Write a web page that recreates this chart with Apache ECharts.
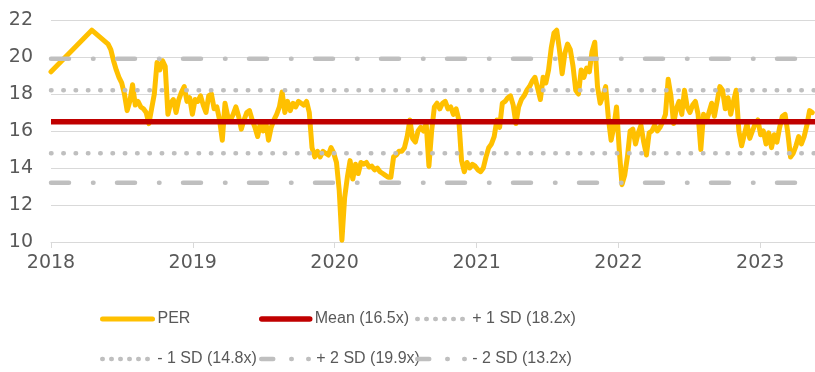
<!DOCTYPE html>
<html>
<head>
<meta charset="utf-8">
<script src="https://cdn.jsdelivr.net/npm/echarts@6/dist/echarts.min.js"></script>
<style>
  html, body { margin: 0; padding: 0; background: #fff; }
  #chart { width: 815px; height: 372px; }
</style>
</head>
<body>
<div id="chart"></div>
<script>
// Price/earnings ratio, sparse early readings
const earlyDates = ['2018-01-01', '2018-04-16'];
const earlyValues = [19.2, 21.45];

// Weekly readings from the first week below
const weeklyStart = [2018, 4, 28]; // 28 May 2018 (month is zero-based)
const weeklyValues = [
  20.7, 20.4, 19.8, 19.3, 18.9, 18.6, 18.0, 17.1, 17.6, 18.5,
  17.4, 17.6, 17.3, 17.2, 17.0, 16.4, 17.2, 18.0, 19.7, 19.3,
  19.8, 19.5, 16.9, 17.5, 17.7, 17.0, 17.7, 18.1, 18.4, 17.6,
  17.8, 16.9, 17.7, 17.6, 17.9, 17.4, 17.0, 17.9, 18.0, 17.2,
  17.3, 16.6, 15.5, 17.5, 16.8, 16.6, 16.9, 17.3, 16.8, 16.1,
  16.6, 17.0, 17.1, 16.6, 16.2, 15.7, 16.4, 16.0, 16.5, 15.5,
  16.2, 16.6, 16.9, 17.3, 18.1, 17.0, 17.6, 17.1, 17.5, 17.3,
  17.6, 17.5, 17.4, 17.6, 17.0, 15.1, 14.6, 14.9, 14.6, 14.9,
  14.8, 14.7, 15.1, 14.8, 14.3, 12.8, 10.1, 12.4, 13.5, 14.4,
  13.4, 14.2, 13.7, 14.3, 14.2, 14.3, 14.05, 14.1, 13.9, 14.0,
  13.8, 13.7, 13.6, 13.5, 13.5, 14.6, 14.7, 14.9, 14.9, 15.1,
  15.7, 16.6, 15.6, 15.4, 16.0, 16.2, 16.0, 16.4, 14.1, 16.0,
  17.3, 17.5, 17.2, 17.5, 17.6, 17.2, 17.3, 16.9, 17.2, 16.6,
  14.4, 13.8, 14.3, 14.0, 14.2, 14.1, 13.9, 13.8, 14.0, 14.6,
  15.1, 15.3, 15.7, 16.6, 16.2, 17.5, 17.6, 17.8, 17.9, 17.4,
  16.4, 17.3, 17.7, 17.9, 18.2, 18.4, 18.7, 18.9, 18.3, 17.7,
  18.9, 18.6, 19.3, 20.5, 21.3, 21.45, 20.4, 19.1, 20.2, 20.7,
  20.4, 19.5, 18.2, 18.0, 19.3, 18.9, 19.4, 19.2, 20.3, 20.8,
  18.4, 17.5, 17.9, 18.4, 16.7, 15.5, 16.2, 17.3, 15.0, 13.1,
  13.6, 14.6, 16.0, 16.1, 15.3, 15.9, 16.3, 15.4, 14.7, 15.9,
  16.0, 16.3, 16.0, 16.2, 16.5, 16.9, 18.8, 17.9, 16.4, 17.2,
  17.6, 16.9, 18.2, 17.3, 17.0, 17.4, 17.6, 16.9, 15.0, 16.9,
  16.5, 17.0, 17.5, 16.8, 17.6, 18.4, 18.2, 17.2, 17.8, 16.9,
  17.6, 18.2, 16.0, 15.2, 15.8, 16.4, 15.6, 16.0, 16.4, 16.6,
  15.8, 16.0, 15.3, 15.9, 15.1, 15.8, 15.4, 16.2, 16.8, 16.9,
  15.9, 14.6, 14.8, 15.2, 15.7, 15.3, 15.7, 16.3, 17.1, 17.0
];

// Statistical reference levels
const meanLevel = 16.5;
const plus1SD = 18.2;
const minus1SD = 14.8;
const plus2SD = 19.9;
const minus2SD = 13.2;

// Axis ranges and tick labels
const xStart = '2018-01-01';
const xEnd = '2023-05-22';
const yearLabels = [2018, 2019, 2020, 2021, 2022, 2023];
const yMin = 10, yMax = 22, yStep = 2;

// ---- build series data ----
const toTime = s => { const p = s.split('-').map(Number); return new Date(p[0], p[1] - 1, p[2]).getTime(); };
const perData = earlyDates.map((d, i) => [toTime(d), earlyValues[i]]);
weeklyValues.forEach((v, i) => {
  const t = new Date(weeklyStart[0], weeklyStart[1], weeklyStart[2] + 7 * i).getTime();
  perData.push([t, v]);
});
const tMin = toTime(xStart), tMax = toTime(xEnd);
const yearTicks = yearLabels.map(y => new Date(y, 0, 1).getTime());
const flat = v => [[tMin, v], [tMax, v]];

const GREY = '#BFBFBF';
const TEXT = '#595959';
const dotted = [0.5, 11.8];
const dashDot = [18, 24, 0.5, 23.5];

const names = {
  per: 'PER',
  mean: 'Mean (' + meanLevel + 'x)',
  p1: '+ 1 SD (' + plus1SD + 'x)',
  m1: '- 1 SD (' + minus1SD + 'x)',
  p2: '+ 2 SD (' + plus2SD + 'x)',
  m2: '- 2 SD (' + minus2SD + 'x)'
};

// one legend entry per slot so the two rows line up in fixed columns
function legendAt(name, left, top, width, lineStyle) {
  return {
    data: [name], left: left, top: top, padding: 0,
    itemWidth: width, itemHeight: 14, itemGap: 0,
    textStyle: { color: TEXT, fontSize: 16, fontFamily: '"Liberation Sans", Arial, sans-serif' },
    itemStyle: { color: 'rgba(0,0,0,0)', borderColor: 'rgba(0,0,0,0)', borderWidth: 0 },
    lineStyle: lineStyle,
    selectedMode: false
  };
}
const legendDots = { type: [0.5, 8.5], cap: 'round', width: 4.5 };
const legendDashDot = { type: [12, 18, 0.5, 16.5, 0.5, 30], cap: 'round', width: 4.5 };

const chart = echarts.init(document.getElementById('chart'), null, { renderer: 'canvas' });
chart.setOption({
  animation: false,
  backgroundColor: '#fff',
  grid: { left: 51, right: 0, top: 20, bottom: 130, containLabel: false },
  legend: [
    legendAt(names.per, 100, 311, 50, { width: 5, cap: 'round' }),
    legendAt(names.mean, 259, 311, 48, { width: 5.5, cap: 'round' }),
    legendAt(names.p1, 415, 311, 50, legendDots),
    legendAt(names.m1, 100, 351, 50, legendDots),
    legendAt(names.p2, 259, 351, 50, legendDashDot),
    legendAt(names.m2, 415, 351, 50, legendDashDot)
  ],
  xAxis: {
    type: 'value',
    min: tMin,
    max: tMax,
    axisLine: { show: true, lineStyle: { color: '#D9D9D9', width: 1 } },
    axisTick: { show: true, customValues: yearTicks, length: 6, lineStyle: { color: '#D9D9D9' } },
    axisLabel: {
      customValues: yearTicks,
      formatter: v => String(new Date(v).getFullYear()),
      color: TEXT, fontSize: 19, fontFamily: 'Tahoma, "DejaVu Sans", sans-serif', margin: 12,
      hideOverlap: false
    },
    splitLine: { show: false }
  },
  yAxis: {
    type: 'value',
    min: yMin, max: yMax, interval: yStep,
    axisLine: { show: false },
    axisTick: { show: false },
    axisLabel: { color: TEXT, fontSize: 19, fontFamily: 'Tahoma, "DejaVu Sans", sans-serif', margin: 18 },
    splitLine: { lineStyle: { color: '#D9D9D9', width: 1 } }
  },
  series: [
    { name: names.per, type: 'line', data: perData, symbol: 'none', showSymbol: false,
      lineStyle: { color: '#FFC000', width: 5, join: 'round', cap: 'round' }, itemStyle: { color: '#FFC000' } },
    { name: names.mean, type: 'line', data: flat(meanLevel), symbol: 'none',
      lineStyle: { color: '#C00000', width: 5.5 }, itemStyle: { color: '#C00000' } },
    { name: names.p1, type: 'line', data: flat(plus1SD), symbol: 'none',
      lineStyle: { color: GREY, width: 4.5, type: dotted, cap: 'round' }, itemStyle: { color: GREY } },
    { name: names.m1, type: 'line', data: flat(minus1SD), symbol: 'none',
      lineStyle: { color: GREY, width: 4.5, type: dotted, cap: 'round' }, itemStyle: { color: GREY } },
    { name: names.p2, type: 'line', data: flat(plus2SD), symbol: 'none',
      lineStyle: { color: GREY, width: 4.5, type: dashDot, cap: 'round' }, itemStyle: { color: GREY } },
    { name: names.m2, type: 'line', data: flat(minus2SD), symbol: 'none',
      lineStyle: { color: GREY, width: 4.5, type: dashDot, cap: 'round' }, itemStyle: { color: GREY } }
  ]
});
</script>
</body>
</html>
